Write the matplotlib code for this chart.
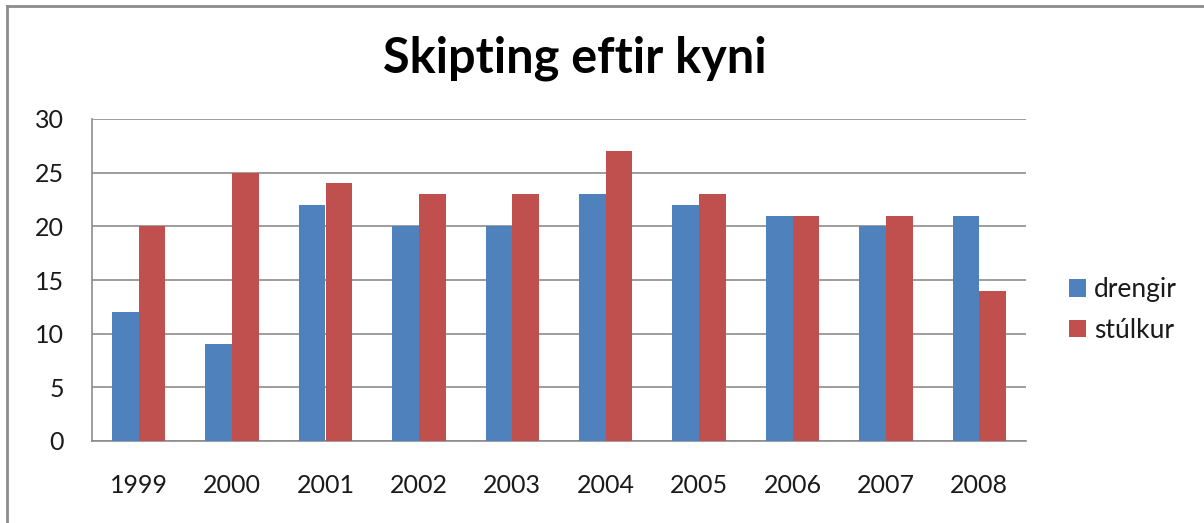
import matplotlib
matplotlib.use("Agg")
import matplotlib.pyplot as plt
import numpy as np
from matplotlib.lines import Line2D

years = ["1999", "2000", "2001", "2002", "2003", "2004", "2005", "2006", "2007", "2008"]
drengir = [12, 9, 22, 20, 20, 23, 22, 21, 20, 21]
stulkur = [20, 25, 24, 23, 23, 27, 23, 21, 21, 14]
series_names = ["drengir", "stúlkur"]

plt.rcParams['font.family'] = ['Lato', 'DejaVu Sans']

fig = plt.figure(figsize=(12.04, 5.23), dpi=100)
ax = fig.add_axes([92/1204, 1 - 441/523, (1026-92)/1204, (441-119)/523])

x = np.arange(len(years))
w = 0.285
ax.bar(x - w/2, drengir, width=w, color="#4F81BD", label=series_names[0], zorder=3)
ax.bar(x + w/2, stulkur, width=w, color="#C0504D", label=series_names[1], zorder=3)

ax.set_xlim(-0.5, len(years) - 0.5)
ax.set_ylim(0, 30)
ax.set_yticks(range(0, 31, 5))
ax.set_xticks(x)
ax.set_xticklabels(years)
ax.yaxis.grid(True, color="#8c8c8c", linewidth=1.2, zorder=0)
ax.tick_params(axis='both', length=0, labelsize=18, colors="#1a1a1a")
ax.tick_params(axis='x', pad=24)
ax.tick_params(axis='y', pad=20)
for s in ["right", "top"]:
    ax.spines[s].set_visible(False)
for s in ["left", "bottom"]:
    ax.spines[s].set_color("#8c8c8c")
    ax.spines[s].set_linewidth(1.2)

fig.text(575/1204, 1 - 58/523, "Skipting eftir kyni", ha="center", va="center",
         fontsize=35, fontweight="bold", color="black")

leg = fig.legend(loc="center left", bbox_to_anchor=(1045/1204, 1 - 310/523),
                 frameon=False, prop={"size": 19},
                 handlelength=0.65, handleheight=0.65,
                 handletextpad=0.3, labelspacing=0.6)
for t in leg.get_texts():
    t.set_color("#1a1a1a")

fig.add_artist(Line2D([7/1204, 7/1204], [0, 1 - 6/523], transform=fig.transFigure,
                      color="#8c8c8c", linewidth=2))
fig.add_artist(Line2D([7/1204, 1], [1 - 6/523, 1 - 6/523], transform=fig.transFigure,
                      color="#8c8c8c", linewidth=2))

fig.savefig("out.png", dpi=100)
